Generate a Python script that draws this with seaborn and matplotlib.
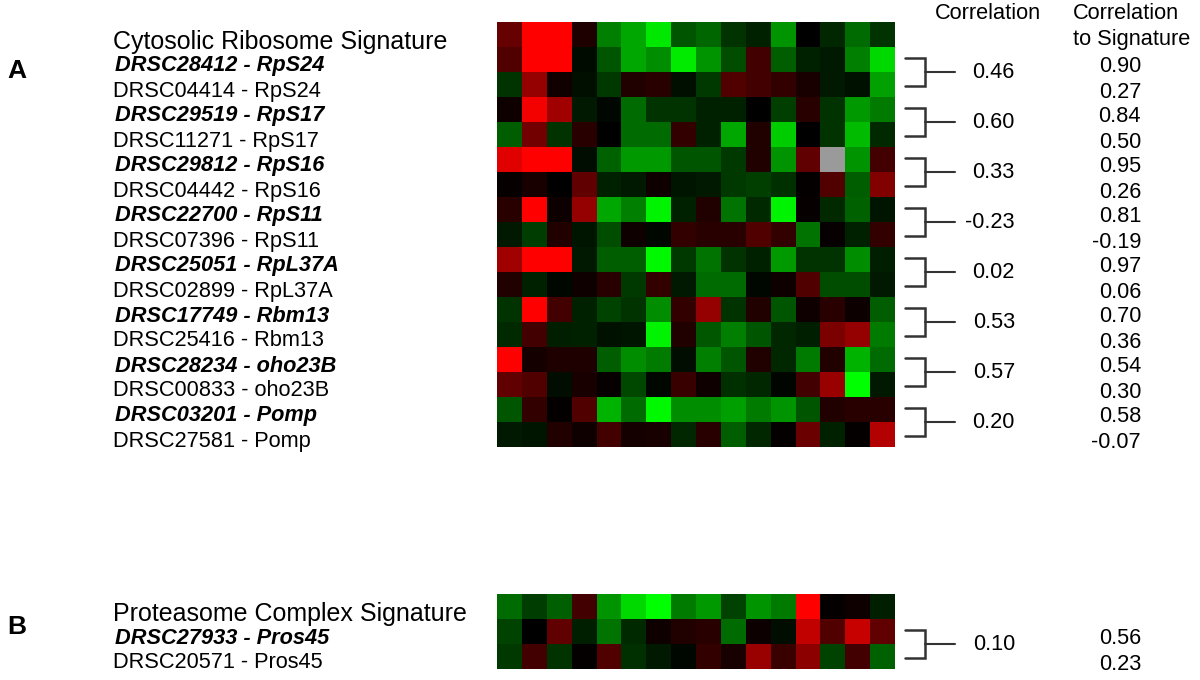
import numpy as np
import pandas as pd
import matplotlib
matplotlib.use("Agg")
import matplotlib.pyplot as plt
from matplotlib.colors import LinearSegmentedColormap
import seaborn as sns

sns.set_theme(style="white")
plt.rcParams['font.family'] = ['Liberation Sans', 'DejaVu Sans']

# ---------------- data: panel A (cytosolic ribosome) ----------------
ribo_labels = ["Cytosolic Ribosome Signature",
               "DRSC28412 - RpS24", "DRSC04414 - RpS24",
               "DRSC29519 - RpS17", "DRSC11271 - RpS17",
               "DRSC29812 - RpS16", "DRSC04442 - RpS16",
               "DRSC22700 - RpS11", "DRSC07396 - RpS11",
               "DRSC25051 - RpL37A", "DRSC02899 - RpL37A",
               "DRSC17749 - Rbm13", "DRSC25416 - Rbm13",
               "DRSC28234 - oho23B", "DRSC00833 - oho23B",
               "DRSC03201 - Pomp", "DRSC27581 - Pomp"]

ribo_signature = [0.40, 1.00, 1.00, 0.12, -0.50, -0.65, -0.90, -0.33, -0.40, -0.20, -0.13, -0.58, 0.00, -0.15, -0.42, -0.20]
DRSC28412 = [0.32, 1.00, 1.00, -0.04, -0.33, -0.65, -0.55, -0.92, -0.58, -0.30, 0.26, -0.36, -0.13, -0.10, -0.50, -0.85]
DRSC04414 = [-0.20, 0.58, 0.07, -0.06, -0.22, 0.13, 0.16, -0.06, -0.22, 0.32, 0.26, 0.20, 0.10, -0.10, -0.07, -0.63]
DRSC29519 = [0.06, 0.95, 0.63, -0.10, -0.03, -0.42, -0.20, -0.20, -0.13, -0.13, 0.00, -0.25, 0.16, -0.20, -0.60, -0.48]
DRSC11271 = [-0.36, 0.45, -0.20, 0.16, 0.00, -0.42, -0.42, 0.20, -0.13, -0.65, 0.13, -0.80, 0.00, -0.20, -0.73, -0.16]
DRSC29812 = [0.88, 1.00, 1.00, -0.05, -0.38, -0.60, -0.60, -0.33, -0.33, -0.22, 0.13, -0.58, 0.38, np.nan, -0.58, 0.26]
DRSC04442 = [0.03, 0.10, 0.00, 0.38, -0.13, -0.10, 0.06, -0.08, -0.10, -0.22, -0.25, -0.18, 0.02, 0.32, -0.36, 0.50]
DRSC22700 = [0.16, 1.00, 0.05, 0.58, -0.65, -0.50, -0.95, -0.13, 0.13, -0.45, -0.16, -0.95, 0.03, -0.16, -0.38, -0.08]
DRSC07396 = [-0.10, -0.24, 0.13, -0.08, -0.30, 0.06, -0.03, 0.20, 0.16, 0.16, 0.32, 0.20, -0.45, 0.03, -0.13, 0.20]
DRSC25051 = [0.63, 1.00, 1.00, -0.10, -0.36, -0.36, -0.97, -0.22, -0.45, -0.20, -0.13, -0.60, -0.20, -0.20, -0.55, -0.12]
DRSC02899 = [0.13, -0.13, -0.03, 0.06, 0.16, -0.22, 0.20, -0.10, -0.42, -0.42, -0.03, 0.06, 0.32, -0.30, -0.30, -0.10]
DRSC17749 = [-0.20, 1.00, 0.26, -0.13, -0.26, -0.20, -0.55, 0.20, 0.58, -0.20, 0.13, -0.33, 0.06, 0.16, 0.05, -0.36]
DRSC25416 = [-0.16, 0.26, -0.12, -0.13, -0.07, -0.08, -0.95, 0.13, -0.34, -0.50, -0.33, -0.15, -0.12, 0.48, 0.58, -0.48]
DRSC28234 = [1.00, 0.08, 0.12, 0.12, -0.36, -0.55, -0.48, -0.05, -0.50, -0.33, 0.13, -0.15, -0.48, 0.13, -0.70, -0.42]
DRSC00833 = [0.38, 0.32, -0.05, 0.10, 0.03, -0.28, -0.03, 0.22, 0.06, -0.18, -0.15, -0.02, 0.26, 0.60, -1.00, -0.10]
DRSC03201 = [-0.33, 0.20, 0.02, 0.32, -0.70, -0.42, -0.97, -0.55, -0.55, -0.62, -0.48, -0.58, -0.33, 0.13, 0.16, 0.16]
DRSC27581 = [-0.10, -0.08, 0.13, 0.06, 0.26, 0.08, 0.10, -0.15, 0.16, -0.36, -0.15, 0.02, 0.42, -0.13, 0.02, 0.70]

ribo_pair_corr = [0.46, 0.60, 0.33, -0.23, 0.02, 0.53, 0.57, 0.20]
ribo_sig_corr = [0.90, 0.27, 0.84, 0.50, 0.95, 0.26, 0.81, -0.19,
                 0.97, 0.06, 0.70, 0.36, 0.54, 0.30, 0.58, -0.07]

# ---------------- data: panel B (proteasome) ----------------
prot_labels = ["Proteasome Complex Signature",
               "DRSC27933 - Pros45", "DRSC20571 - Pros45"]
prot_signature = [-0.42, -0.24, -0.37, 0.26, -0.58, -0.85, -1.00, -0.48, -0.60, -0.26, -0.58, -0.48, 1.00, 0.02, 0.06, -0.12]
DRSC27933 = [-0.26, 0.00, 0.38, -0.12, -0.45, -0.16, 0.06, 0.13, 0.16, -0.42, 0.05, -0.05, 0.75, 0.32, 0.78, 0.38]
DRSC20571 = [-0.22, 0.26, -0.20, 0.02, 0.32, -0.18, -0.10, -0.03, 0.20, 0.10, 0.60, 0.22, 0.55, -0.26, 0.26, -0.38]

prot_pair_corr = [0.10]
prot_sig_corr = [0.56, 0.23]

# ---------------- build tables ----------------
ribo_df = pd.DataFrame([ribo_signature, DRSC28412, DRSC04414, DRSC29519, DRSC11271,
                        DRSC29812, DRSC04442, DRSC22700, DRSC07396, DRSC25051,
                        DRSC02899, DRSC17749, DRSC25416, DRSC28234, DRSC00833,
                        DRSC03201, DRSC27581], index=ribo_labels)
prot_df = pd.DataFrame([prot_signature, DRSC27933, DRSC20571], index=prot_labels)

cmap = LinearSegmentedColormap.from_list("gkr", [(0, 1, 0), (0, 0, 0), (1, 0, 0)])

W, H = 1200, 680
fig = plt.figure(figsize=(12, 6.8), dpi=100)

def px_axes(x0, y0, x1, y1):
    return fig.add_axes([x0 / W, 1 - y1 / H, (x1 - x0) / W, (y1 - y0) / H])

axA = px_axes(497, 22, 895, 447)
axB = px_axes(497, 594, 895, 669)

LABEL_FS = 15.7
SIG_FS = 18
LINE_C = "#333333"

def draw_panel(ax, df, pair_corr, sig_corr, letter, letter_row, headers):
    ax.set_facecolor("#9a9a9a")
    sns.heatmap(df, ax=ax, cmap=cmap, vmin=-1, vmax=1, cbar=False,
                xticklabels=False, yticklabels=False, linewidths=0)
    ax.set_xlabel("")
    ax.set_ylabel("")
    x_label = (113 - 497) / 24.875
    for i, lab in enumerate(df.index):
        if i == 0:
            ax.text(x_label, i + 0.80, lab, ha="left", va="center",
                    fontsize=SIG_FS, color="black", clip_on=False)
        elif i % 2 == 1:
            ax.text(x_label + 0.1, i + 0.76, lab, ha="left", va="center",
                    fontsize=LABEL_FS, fontweight="bold", fontstyle="italic",
                    color="black", clip_on=False)
        else:
            ax.text(x_label, i + 0.76, lab, ha="left", va="center",
                    fontsize=LABEL_FS, color="black", clip_on=False)
    ax.text((7 - 497) / 24.875, letter_row, letter, ha="left", va="center",
            fontsize=19, fontweight="bold", color="black", clip_on=False)
    ncol = df.shape[1]
    xs0, xs1, xt = ncol + 0.40, ncol + 1.20, ncol + 2.40
    for k, c in enumerate(pair_corr):
        r1, r2 = 2 * k + 1.5, 2 * k + 2.5
        mid = (r1 + r2) / 2
        ax.plot([xs0, xs1, xs1, xs0], [r1 - 0.05, r1 - 0.05, r2 + 0.05, r2 + 0.05],
                color=LINE_C, lw=1.8, clip_on=False, solid_joinstyle="miter")
        ax.plot([xs1, xt], [mid, mid], color=LINE_C, lw=1.5, clip_on=False)
        ax.text(20.82, mid + 0.04, f"{c:.2f}", ha="right", va="center",
                fontsize=LABEL_FS, color="black", clip_on=False)
    for j, v in enumerate(sig_corr):
        ax.text(25.89, j + 1.80, f"{v:.2f}", ha="right", va="center",
                fontsize=LABEL_FS, color="black", clip_on=False)
    if headers:
        ax.text(19.74, -0.34, "Correlation", ha="center", va="center",
                fontsize=LABEL_FS, color="black", clip_on=False)
        ax.text(23.16, -0.34, "Correlation", ha="left", va="center",
                fontsize=LABEL_FS, color="black", clip_on=False)
        ax.text(23.16, 0.72, "to Signature", ha="left", va="center",
                fontsize=LABEL_FS, color="black", clip_on=False)
    for s in ax.spines.values():
        s.set_visible(False)

draw_panel(axA, ribo_df, ribo_pair_corr, ribo_sig_corr, "A", 1.96, True)
draw_panel(axB, prot_df, prot_pair_corr, prot_sig_corr, "B", 1.30, False)

fig.savefig("out.png", dpi=100, facecolor="white")
